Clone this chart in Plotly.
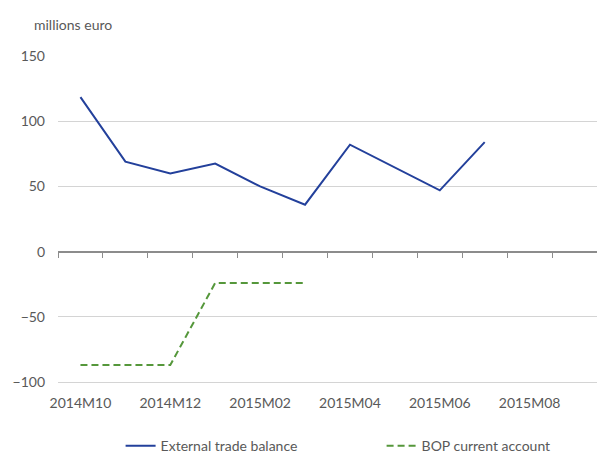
import plotly.graph_objects as go

# Monthly periods shown on the horizontal axis
periods = ["2014M10", "2014M11", "2014M12", "2015M01", "2015M02", "2015M03",
           "2015M04", "2015M05", "2015M06", "2015M07", "2015M08", "2015M09"]

# Series values, millions of euro
trade_balance = [118.5, 69, 60, 67.5, 50, 36, 82, 64.5, 47, 84]
bop_current = [-87, -87, -87, -24, -24, -24]

# Labelled periods (every second month)
tick_labels = ["2014M10", "2014M12", "2015M02", "2015M04", "2015M06", "2015M08"]
y_ticks = [-100, -50, 0, 50, 100, 150]

TEXT = "#595959"
GRID = "#d4d4d4"
FONT = "Lato"

idx = list(range(len(periods)))
label_pos = [periods.index(t) for t in tick_labels]
edges = [i - 0.5 for i in range(len(periods) + 1)]

fig = go.Figure()
fig.add_trace(go.Scatter(
    x=idx[:len(trade_balance)], y=trade_balance, mode="lines",
    name="External trade balance",
    line=dict(color="#23409b", width=2),
))
fig.add_trace(go.Scatter(
    x=idx[:len(bop_current)], y=bop_current, mode="lines",
    name="BOP current account",
    line=dict(color="#55973b", width=2, dash="7px,4px"),
))
# invisible trace on the overlay axis that carries the zero line with ticks
fig.add_trace(go.Scatter(x=[], y=[], xaxis="x2", showlegend=False, hoverinfo="skip"))

fig.update_layout(
    width=597, height=460,
    margin=dict(l=58, r=0, t=56, b=78),
    plot_bgcolor="white", paper_bgcolor="white",
    font=dict(family=FONT, size=14, color=TEXT),
    showlegend=True,
    legend=dict(orientation="h", xref="container", yref="container",
                x=0.202, y=0.03, xanchor="left", yanchor="middle",
                entrywidth=216, font=dict(size=14, color=TEXT)),
    xaxis=dict(
        range=[-0.5, len(periods) - 0.5],
        tickvals=label_pos, ticktext=tick_labels,
        showgrid=False, zeroline=False,
        showline=True, linecolor=GRID, linewidth=1, ticks="",
        ticklabelstandoff=8,
        tickfont=dict(size=14, color=TEXT),
    ),
    xaxis2=dict(
        overlaying="x", anchor="free", position=0.4, side="bottom",
        range=[-0.5, len(periods) - 0.5],
        tickvals=edges, showticklabels=False,
        ticks="outside", ticklen=5, tickwidth=1, tickcolor="#8c8c8c",
        showline=True, linecolor="#8c8c8c", linewidth=2,
        showgrid=False, zeroline=False,
    ),
    yaxis=dict(
        range=[-100, 150], tickvals=y_ticks,
        showgrid=True, gridcolor=GRID, gridwidth=1,
        zeroline=False, showline=False, ticks="",
        ticklabelstandoff=12,
        tickfont=dict(size=14, color=TEXT),
    ),
    annotations=[dict(
        text="millions euro", xref="paper", yref="paper",
        x=-0.048, y=1.097, xanchor="left", yanchor="middle",
        showarrow=False, font=dict(size=14, color=TEXT),
    )],
)

fig.write_html("out.html")
